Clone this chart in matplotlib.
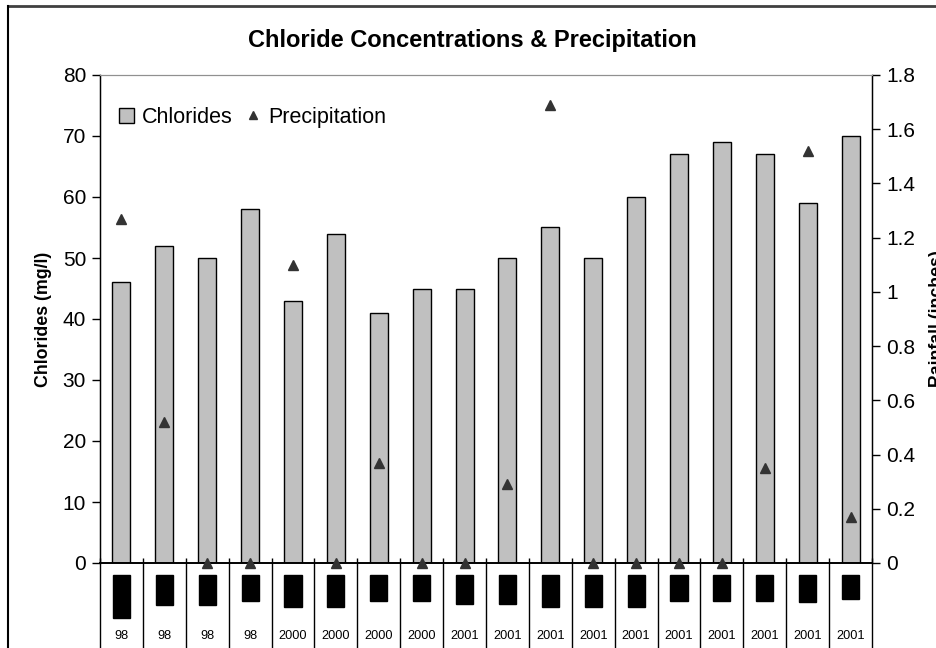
import numpy as np
from matplotlib import pyplot as plt
from matplotlib.lines import Line2D
from matplotlib.patches import Rectangle
from matplotlib.transforms import blended_transform_factory

plt.rcParams['font.family'] = 'Liberation Sans'

## DATA ##
years = ['98'] * 4 + ['2000'] * 4 + ['2001'] * 10
chlorides = [46, 52, 50, 58, 43, 54, 41, 45, 45, 50, 55, 50, 60, 67, 69, 67, 59, 70]
precip = [1.27, 0.52, 0, 0, 1.10, 0, 0.37, 0, 0, 0.29, 1.69, 0, 0, 0, 0, 0.35, 1.52, 0.17]
# depth (px below the axis) of the blacked-out month labels
box_depth = [55, 42, 42, 38, 44, 44, 38, 38, 41, 41, 44, 44, 44, 38, 38, 38, 39, 36]

W, H = 937, 648
fig = plt.figure(figsize=(W / 100, H / 100), dpi=100)
ax_l, ax_r, ax_b, ax_t = 100, 872, 563, 75
ax = fig.add_axes([ax_l / W, 1 - ax_b / H, (ax_r - ax_l) / W, (ax_b - ax_t) / H])
ax2 = ax.twinx()
ax_h = ax_b - ax_t

x = np.arange(len(chlorides))
ax.bar(x, chlorides, width=0.42, color='#C0C0C0', edgecolor='black', linewidth=1,
       label='Chlorides', zorder=2)
ax2.plot(x, precip, linestyle='none', marker='^', markersize=7, color='#333333',
         label='Precipitation', clip_on=False, zorder=3)

ax.set_xlim(-0.5, len(x) - 0.5)
ax.set_ylim(0, 80)
ax2.set_ylim(0, 1.8)
ax.set_yticks(range(0, 81, 10))
ax2.set_yticks(np.arange(0, 1.81, 0.2))
ax2.set_yticklabels(['0', '0.2', '0.4', '0.6', '0.8', '1', '1.2', '1.4', '1.6', '1.8'])
ax.set_xticks([])

for a in (ax, ax2):
    a.tick_params(axis='y', direction='out', length=6, width=1, labelsize=15, pad=4)
    a.spines['top'].set_color('#909090')
    a.spines['bottom'].set_linewidth(1.2)
ax.spines['left'].set_linewidth(1)
ax2.spines['right'].set_linewidth(1)

ax.set_ylabel('Chlorides (mg/l)', fontsize=12.8, fontweight='bold', labelpad=8)
ax2.set_ylabel('Rainfall (inches)', fontsize=12.8, fontweight='bold', labelpad=10)
fig.text(472 / W, 1 - 40 / H, 'Chloride Concentrations & Precipitation',
         ha='center', va='center', fontsize=17, fontweight='bold')

# category area below the axis
trans = blended_transform_factory(ax.transData, ax.transAxes)
ax.vlines(np.arange(len(x) + 1) - 0.5, 5 / ax_h, -95 / ax_h, colors='black',
          linewidth=1, transform=trans, clip_on=False)
for i, d in enumerate(box_depth):
    ax.add_patch(Rectangle((i - 0.2, -d / ax_h), 0.4, (d - 12) / ax_h, color='black',
                           transform=trans, clip_on=False))
    ax.text(i, -73 / ax_h, years[i], transform=trans, ha='center', va='center',
            fontsize=9.2)

h1, l1 = ax.get_legend_handles_labels()
h2, l2 = ax2.get_legend_handles_labels()
ax.legend(h1 + h2, l1 + l2, loc='upper left', bbox_to_anchor=(0.0, 0.975), ncol=2,
          frameon=False, fontsize=15.5, handlelength=0.7, handletextpad=0.35,
          columnspacing=0.6, markerscale=0.8)

# outer chart frame
fig.add_artist(Line2D([8 / W, 1], [1 - 6 / H, 1 - 6 / H], color='#404040', linewidth=2))
fig.add_artist(Line2D([8 / W, 8 / W], [0, 1 - 6 / H], color='black', linewidth=1.5))

plt.savefig('out.png', dpi=100)
